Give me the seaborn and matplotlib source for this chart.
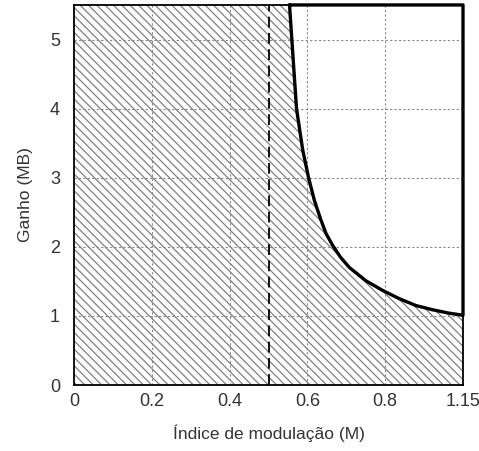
import matplotlib
matplotlib.use("Agg")
import matplotlib.pyplot as plt
import seaborn as sns
import pandas as pd

# Data
M_curve = [0.554, 0.560, 0.572, 0.588, 0.603, 0.618, 0.634, 0.648, 0.665, 0.685, 0.708,
           0.750, 0.793, 0.836, 0.879, 0.921, 0.964, 1.0]
G_curve = [5.5, 5.0, 4.0, 3.4, 3.0, 2.67, 2.40, 2.19, 2.02, 1.85, 1.70,
           1.51, 1.37, 1.25, 1.15, 1.09, 1.04, 1.01]
G_max = 5.5
M_limit = 0.5
x_ticks = [0, 0.2, 0.4, 0.6, 0.8, 1.0]
x_tick_labels = ["0", "0.2", "0.4", "0.6", "0.8", "1.15"]
y_ticks = [0, 1, 2, 3, 4, 5]
x_label = "Índice de modulação (M)"
y_label = "Ganho (MB)"

sns.set_theme(style="white")
plt.rcParams["font.family"] = ["Liberation Sans", "DejaVu Sans"]
plt.rcParams["hatch.linewidth"] = 0.9
plt.rcParams["hatch.color"] = "#808080"

fig = plt.figure(figsize=(4.79, 4.51), dpi=100)
ax = fig.add_axes([0.1545, 0.1463, 0.8121, 0.8427])

# Hatched feasible region
fill_x = [0.0] + M_curve
fill_y = [G_max] + G_curve
ax.fill_between(fill_x, 0, fill_y, facecolor="white", edgecolor="#808080",
                hatch="\\\\\\\\", linewidth=0, zorder=1)

# grid
for xv in x_ticks[1:-1]:
    ax.axvline(xv, color="#888888", lw=0.8, ls=(0, (2, 2)), zorder=2)
for yv in y_ticks[1:]:
    ax.axhline(yv, color="#888888", lw=0.8, ls=(0, (2, 2)), zorder=2)

# dashed limit line
ax.axvline(M_limit, color="black", lw=1.3, ls=(0, (6, 3)), zorder=3)

# boundary of clear region
bx = M_curve + [1.0, M_curve[0]]
by = G_curve + [G_max, G_max]
df = pd.DataFrame({"M": bx, "G": by})
sns.lineplot(data=df, x="M", y="G", sort=False, estimator=None, color="black",
             lw=2.4, ax=ax, zorder=4, clip_on=False)

ax.set_xlim(0, 1.0)
ax.set_ylim(0, G_max)
ax.set_xticks(x_ticks)
ax.set_xticklabels(x_tick_labels)
ax.set_yticks(y_ticks)
ax.tick_params(axis="both", length=0, labelsize=13, colors="#333333")
ax.tick_params(axis="x", pad=6)
ax.tick_params(axis="y", pad=10)
ax.set_xlabel(x_label, fontsize=12.5, color="#333333", labelpad=10)
ax.set_ylabel(y_label, fontsize=12.5, color="#333333", labelpad=12)
for s in ax.spines.values():
    s.set_color("black")
    s.set_linewidth(1.3)
    s.set_zorder(5)

fig.savefig("out.png", dpi=100)
